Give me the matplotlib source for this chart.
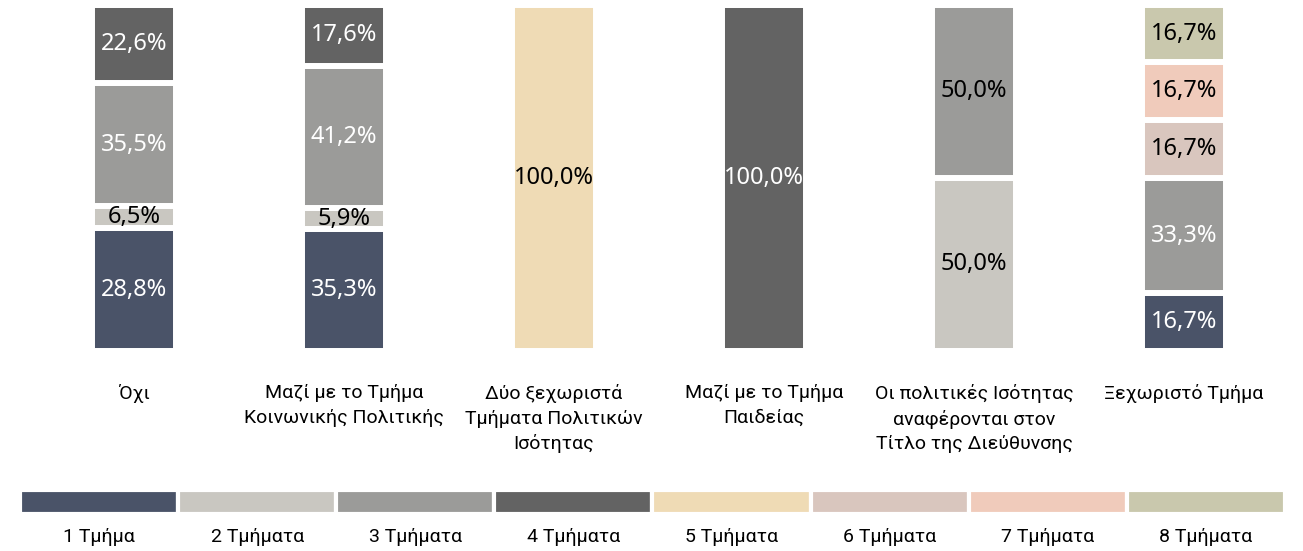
import matplotlib
matplotlib.use("Agg")
import matplotlib.pyplot as plt
import numpy as np

plt.rcParams["font.family"] = ["Roboto", "DejaVu Sans"]

categories = [
    "Όχι",
    "Μαζί με το Τμήμα\nΚοινωνικής Πολιτικής",
    "Δύο ξεχωριστά\nΤμήματα Πολιτικών\nΙσότητας",
    "Μαζί με το Τμήμα\nΠαιδείας",
    "Οι πολιτικές Ισότητας\nαναφέρονται στον\nΤίτλο της Διεύθυνσης",
    "Ξεχωριστό Τμήμα",
]
series_names = ["1 Τμήμα", "2 Τμήματα", "3 Τμήματα", "4 Τμήματα",
                "5 Τμήματα", "6 Τμήματα", "7 Τμήματα", "8 Τμήματα"]

# percentages per series, one value per category
one_dept = [28.8, 35.3, 0, 0, 0, 16.7]
two_depts = [6.5, 5.9, 0, 0, 50.0, 0]
three_depts = [35.5, 41.2, 0, 0, 50.0, 33.3]
four_depts = [22.6, 17.6, 0, 100.0, 0, 0]
five_depts = [0, 0, 100.0, 0, 0, 0]
six_depts = [0, 0, 0, 0, 0, 16.7]
seven_depts = [0, 0, 0, 0, 0, 16.7]
eight_depts = [0, 0, 0, 0, 0, 16.7]
# unlabelled share that the first column's "1 Τμήμα" block also covers
unlabelled = [6.6, 0, 0, 0, 0, 0]

colors = ["#4a5368", "#c9c7c1", "#9b9b99", "#636363",
          "#efdbb5", "#d9c6be", "#f0cbbb", "#c9c8ad"]

# data labels printed in white (series index, category index)
white_labels = {(0, 0), (0, 1), (0, 5), (2, 0), (2, 1), (2, 5),
                (3, 0), (3, 1), (3, 3)}

values = [one_dept, two_depts, three_depts, four_depts,
          five_depts, six_depts, seven_depts, eight_depts]

fig = plt.figure(figsize=(13.03, 5.51), dpi=100)

# main stacked bars
ax = fig.add_axes([0, 0.363, 1, 0.628])
x = np.arange(len(categories))
bottom = np.zeros(len(categories))
for si, vals in enumerate(values):
    vals = np.array(vals, dtype=float)
    heights = vals + (np.array(unlabelled) if si == 0 else 0)
    ax.bar(x, heights, bottom=bottom, width=0.40, color=colors[si],
           edgecolor="white", linewidth=4.3)
    for ci, v in enumerate(vals):
        if v <= 0:
            continue
        txt = f"{v:.1f}%".replace(".", ",")
        col = "white" if (si, ci) in white_labels else "black"
        ax.text(ci, bottom[ci] + heights[ci] / 2, txt, ha="center", va="center",
                fontsize=17, color=col, family=["Noto Sans", "DejaVu Sans"])
    bottom += heights

ax.set_xlim(-0.638, 5.567)
ax.set_ylim(0, 100)
ax.set_xticks(x)
ax.set_xticklabels(categories, fontsize=14, linespacing=1.45, va="top")
ax.tick_params(axis="x", length=0, pad=24)
ax.set_yticks([])
for s in ax.spines.values():
    s.set_visible(False)

# legend strip
lax = fig.add_axes([0.01535, 0.0672, 0.9708, 0.0436])
lx = np.arange(len(series_names))
lax.bar(lx, np.ones(len(series_names)), width=1.0, color=colors,
        edgecolor="white", linewidth=3)
lax.set_xlim(-0.5, len(series_names) - 0.5)
lax.set_ylim(0, 1)
lax.set_xticks(lx)
lax.set_xticklabels(series_names, fontsize=14)
lax.tick_params(axis="x", length=0, pad=10)
lax.set_yticks([])
for s in lax.spines.values():
    s.set_visible(False)

fig.savefig("out.png", dpi=100)
